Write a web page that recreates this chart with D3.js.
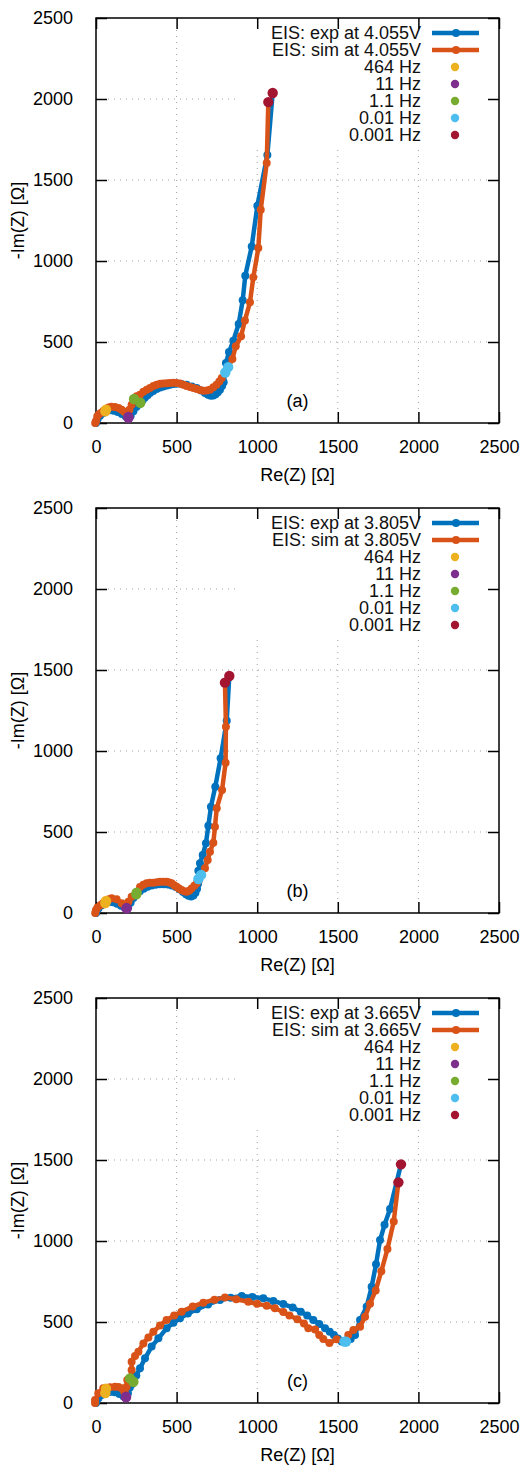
<!DOCTYPE html>
<html>
<head>
<meta charset="utf-8">
<script src="https://cdnjs.cloudflare.com/ajax/libs/d3/7.8.5/d3.min.js"></script>
<style>
  body { margin: 0; background: #fff; }
  text { font-family: "Liberation Sans", Arial, sans-serif; }
</style>
</head>
<body>
<div id="chart"></div>
<script>
// axis ticks
var tickValues = [0, 500, 1000, 1500, 2000, 2500];
var gridValues = [500, 1000, 1500, 2000];

// frequency markers shown in the legend
var freqLabels = ["464 Hz", "11 Hz", "1.1 Hz", "0.01 Hz", "0.001 Hz"];
var freqColors = ["#edb120", "#7e2f8e", "#77ac30", "#4dbeee", "#a2142f"];

var voltages = ["4.055V", "3.805V", "3.665V"];
var panelTags = ["(a)", "(b)", "(c)"];

// (a) 4.055 V  [Re, -Im] in ohm
var expA = [[0,0],[10,25],[25,45],[45,62],[58,72],[85,78],[110,76],[135,68],[160,55],[185,40],[201,32],
  [215,45],[232,72],[250,98],[263,113],[275,125],[290,142],[304,157],[320,172],[335,185],[355,198],
  [376,210],[398,219],[418,226],[440,232],[459,236],[480,240],[500,243],[530,241],[562,236],[595,226],
  [625,216],[652,200],[676,185],[695,175],[712,168],[728,170],[742,177],[756,190],[769,206],[782,228],
  [792,252],[802,312],[806,370],[825,438],[852,508],[885,611],[910,757],[926,909],[966,1090],[1001,1341],
  [1063,1654],[1096,2037]];
var simA = [[-5,0],[0,12],[8,41],[20,55],[35,65],[48,75],[62,82],[78,95],[95,101],[118,99],[140,92],
  [159,82],[175,70],[190,55],[201,37],[207,82],[221,113],[236,148],[252,165],[273,175],[294,193],
  [315,205],[335,216],[356,228],[376,236],[398,242],[418,244],[440,246],[459,247],[480,248],[500,247],
  [521,244],[542,236],[562,228],[583,222],[604,216],[625,210],[645,203],[666,199],[687,200],[707,206],
  [728,220],[748,236],[765,256],[780,278],[800,310],[820,345],[846,395],[867,473],[900,535],[924,633],
  [955,745],[976,899],[1007,1080],[1022,1317],[1059,1605],[1069,1981]];
var hzExpA = [[58,72],[201,32],[275,125],[802,312],[1096,2037]];
var hzSimA = [[62,82],[201,37],[236,148],[820,345],[1069,1981]];

// (b) 3.805 V
var expB = [[0,0],[15,28],[35,48],[58,62],[80,68],[105,66],[130,57],[155,45],[175,35],[190,29],
  [200,40],[215,65],[232,92],[250,115],[272,135],[296,150],[320,162],[345,170],[370,175],[396,178],
  [420,178],[445,176],[470,170],[495,160],[518,147],[540,130],[558,116],[574,106],[590,102],[604,108],
  [617,125],[627,150],[633,180],[635,210],[635,261],[645,307],[662,358],[682,430],[697,539],[713,656],
  [740,780],[773,955],[811,1187],[827,1463]];
var simB = [[-5,0],[0,19],[10,35],[29,49],[45,62],[62,74],[80,85],[97,91],[128,85],[159,60],[180,40],
  [190,29],[201,70],[221,101],[252,125],[273,160],[294,175],[314,183],[335,186],[356,187],[377,190],
  [397,193],[418,193],[438,193],[455,188],[469,183],[485,172],[500,162],[515,152],[531,142],[547,135],
  [562,131],[578,138],[593,152],[610,168],[625,183],[640,205],[652,235],[676,276],[693,327],[707,378],
  [728,434],[738,533],[749,646],[782,759],[804,928],[806,1150],[800,1422]];
var hzExpB = [[58,62],[190,29],[250,115],[635,210],[827,1463]];
var hzSimB = [[62,74],[190,29],[252,125],[652,235],[800,1422]];

// (c) 3.665 V
var expC = [[0,0],[15,30],[35,50],[58,62],[85,68],[115,66],[145,55],[170,42],[186,35],[198,60],
  [210,95],[222,115],[232,131],[250,170],[273,214],[304,276],[345,348],[387,399],[438,461],[480,495],
  [521,523],[570,552],[625,578],[695,608],[769,636],[835,650],[904,660],[970,655],[1038,646],[1100,630],
  [1162,611],[1220,590],[1270,564],[1310,540],[1348,512],[1385,487],[1421,461],[1450,440],[1476,420],
  [1500,398],[1524,379],[1551,379],[1580,395],[1607,420],[1638,512],[1679,594],[1710,718],[1737,856],
  [1762,1006],[1790,1100],[1824,1198],[1892,1473]];
var simC = [[-6,0],[-6,18],[14,60],[45,91],[62,92],[87,97],[118,101],[140,98],[159,91],[175,70],
  [186,39],[190,100],[194,142],[211,152],[221,204],[221,255],[242,290],[263,317],[294,368],[325,405],
  [356,440],[397,478],[438,512],[485,540],[531,564],[600,595],[666,619],[735,638],[800,652],[870,640],
  [945,625],[1000,612],[1059,601],[1110,585],[1162,562],[1200,540],[1249,517],[1290,490],[1317,461],
  [1359,453],[1385,420],[1410,395],[1448,370],[1493,393],[1541,379],[1565,420],[1597,451],[1638,471],
  [1669,533],[1700,613],[1735,695],[1770,813],[1808,950],[1847,1121],[1876,1362]];
var hzExpC = [[58,62],[186,35],[232,131],[1551,379],[1892,1473]];
var hzSimC = [[62,88],[186,39],[211,152],[1541,379],[1876,1362]];

var panels = [
  {exp: expA, sim: simA, hzExp: hzExpA, hzSim: hzSimA},
  {exp: expB, sim: simB, hzExp: hzExpB, hzSim: hzSimB},
  {exp: expC, sim: simC, hzExp: hzExpC, hzSim: hzSimC}
];

var W = 525, H = 1465;
var left = 96, right = 499, plotH = 405;
var tops = [18, 508, 998];
var blue = "#0072bd", orange = "#d95319";
var fs = 18;

var svg = d3.select("#chart").append("svg")
  .attr("width", W).attr("height", H);

panels.forEach(function(p, i) {
  var top = tops[i], bottom = top + plotH;
  var x = d3.scaleLinear().domain([0, 2500]).range([left, right]);
  var y = d3.scaleLinear().domain([0, 2500]).range([bottom, top]);
  var g = svg.append("g");

  // grid
  g.selectAll(".gx").data(gridValues).enter().append("line")
    .attr("x1", d => x(d)).attr("x2", d => x(d))
    .attr("y1", top + 12).attr("y2", bottom - 12)
    .attr("stroke", "#a0a0a0").attr("stroke-width", 1).attr("stroke-dasharray", "1,5");
  g.selectAll(".gy").data(gridValues).enter().append("line")
    .attr("y1", d => y(d)).attr("y2", d => y(d))
    .attr("x1", left + 12).attr("x2", right - 12)
    .attr("stroke", "#a0a0a0").attr("stroke-width", 1).attr("stroke-dasharray", "1,5");

  // opaque key box
  g.append("rect").attr("x", 240).attr("y", top + 1)
    .attr("width", right - 241).attr("height", 126).attr("fill", "#fff");

  // axes
  var fmt = d3.format("d");
  var ax = g.append("g").attr("transform", "translate(0," + bottom + ")")
    .call(d3.axisBottom(x).tickValues(tickValues).tickSize(-11).tickPadding(17).tickFormat(fmt));
  var ay = g.append("g").attr("transform", "translate(" + left + ",0)")
    .call(d3.axisLeft(y).tickValues(tickValues).tickSize(-11).tickPadding(23).tickFormat(fmt));
  var at = g.append("g").attr("transform", "translate(0," + top + ")")
    .call(d3.axisTop(x).tickValues(tickValues).tickSize(-11).tickFormat(""));
  var ar = g.append("g").attr("transform", "translate(" + right + ",0)")
    .call(d3.axisRight(y).tickValues(tickValues).tickSize(-11).tickFormat(""));
  [ax, ay, at, ar].forEach(function(a) {
    a.select(".domain").remove();
    a.selectAll(".tick line").attr("stroke", "#000").attr("stroke-width", 1.5);
    a.selectAll(".tick text").attr("font-size", fs).attr("fill", "#000")
      .style("font-family", "'Liberation Sans', Arial, sans-serif");
  });

  g.append("rect").attr("x", left).attr("y", top)
    .attr("width", right - left).attr("height", plotH)
    .attr("fill", "none").attr("stroke", "#000").attr("stroke-width", 1.5);

  // axis titles
  g.append("text").attr("x", (left + right) / 2).attr("y", bottom + 58)
    .attr("text-anchor", "middle").attr("font-size", fs).text("Re(Z) [Ω]");
  g.append("text").attr("transform", "translate(24," + (top + plotH / 2) + ") rotate(-90)")
    .attr("text-anchor", "middle").attr("font-size", fs).text("-Im(Z) [Ω]");

  // panel tag
  g.append("text").attr("x", x(1250)).attr("y", y(135)).attr("dy", "0.35em")
    .attr("text-anchor", "middle").attr("font-size", fs).text(panelTags[i]);

  var line = d3.line().x(d => x(d[0])).y(d => y(d[1]));

  [[p.exp, blue], [p.sim, orange]].forEach(function(s) {
    g.append("path").datum(s[0]).attr("d", line)
      .attr("fill", "none").attr("stroke", s[1]).attr("stroke-width", 4.5)
      .attr("stroke-linejoin", "round");
    g.selectAll(null).data(s[0]).enter().append("circle")
      .attr("cx", d => x(d[0])).attr("cy", d => y(d[1])).attr("r", 4)
      .attr("fill", s[1]);
  });

  [p.hzExp, p.hzSim].forEach(function(pts) {
    g.selectAll(null).data(pts).enter().append("circle")
      .attr("cx", d => x(d[0])).attr("cy", d => y(d[1])).attr("r", 5.2)
      .attr("fill", (d, k) => freqColors[k]);
  });

  // key
  var keyRows = ["EIS: exp at " + voltages[i], "EIS: sim at " + voltages[i]].concat(freqLabels);
  var keyColors = [blue, orange].concat(freqColors);
  keyRows.forEach(function(lbl, k) {
    var ky = top + 15 + k * 17;
    g.append("text").attr("x", 421).attr("y", ky).attr("dy", "0.35em")
      .attr("text-anchor", "end").attr("font-size", fs).attr("fill", "#111").text(lbl);
    if (k < 2) {
      g.append("line").attr("x1", 432).attr("x2", 479).attr("y1", ky).attr("y2", ky)
        .attr("stroke", keyColors[k]).attr("stroke-width", 4.5);
      g.append("circle").attr("cx", 456).attr("cy", ky).attr("r", 4).attr("fill", keyColors[k]);
    } else {
      g.append("circle").attr("cx", 455).attr("cy", ky).attr("r", 4.2).attr("fill", keyColors[k]);
    }
  });
});
</script>
</body>
</html>
